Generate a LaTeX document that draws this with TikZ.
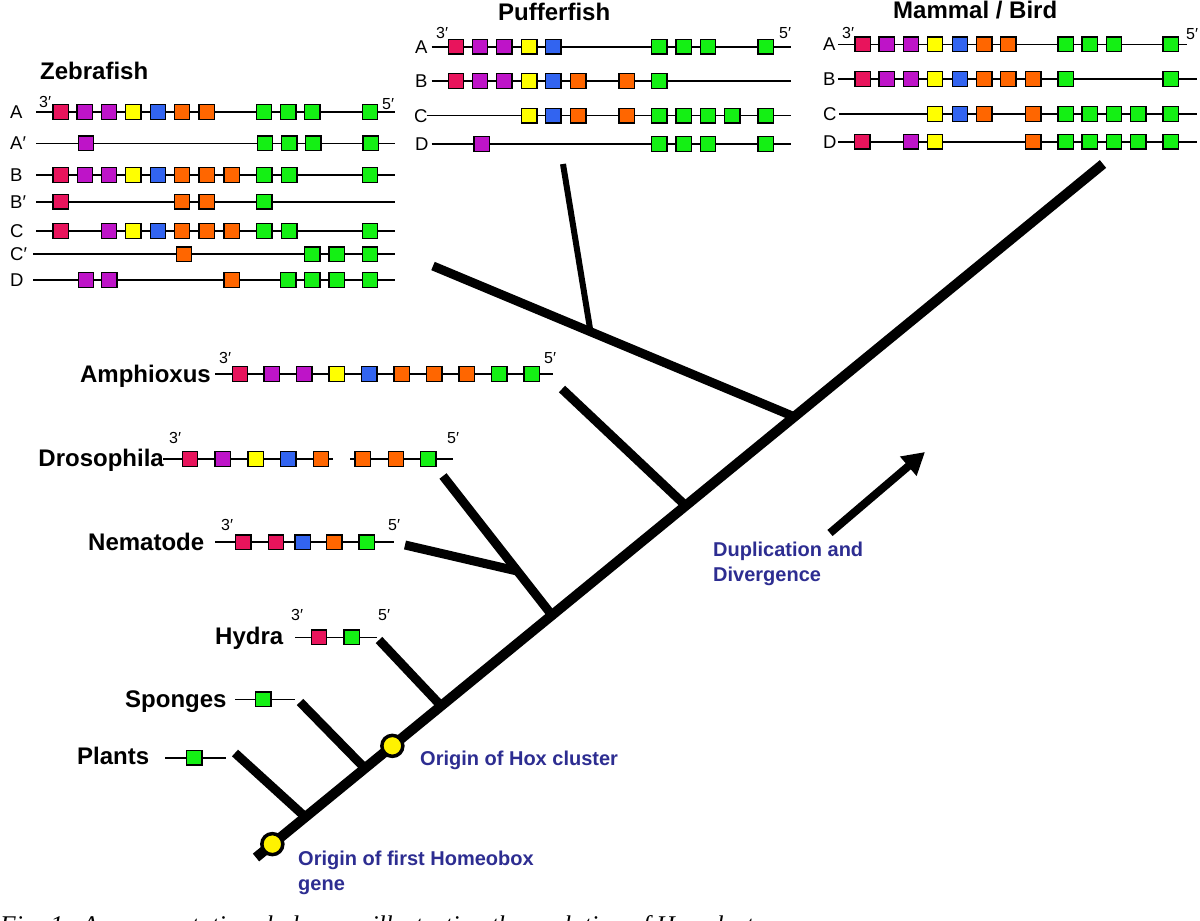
\documentclass[tikz,border=0pt]{standalone}
\usepackage{fontspec}
\setmainfont{Liberation Sans}
\newfontfamily\capfont{Liberation Serif}
\usetikzlibrary{calc,arrows.meta}
\definecolor{gred}{RGB}{232,20,92}
\definecolor{gmag}{RGB}{190,20,200}
\definecolor{gyel}{RGB}{255,255,0}
\definecolor{gblu}{RGB}{50,100,240}
\definecolor{gora}{RGB}{255,102,0}
\definecolor{ggrn}{RGB}{20,240,20}
\definecolor{navy}{RGB}{45,45,145}
\tikzset{
  gene/.style={rectangle, draw=black, line width=1.4pt, minimum width=15.5pt, minimum height=14.5pt, inner sep=0pt},
  dnathick/.style={line width=2pt},
  dnathin/.style={line width=1.3pt},
  title/.style={font=\fontsize{24}{28}\selectfont\bfseries, inner sep=0pt},
  rowlab/.style={font=\fontsize{18.5}{20}\selectfont, inner sep=0pt, anchor=base west},
  endlab/.style={font=\fontsize{16}{18}\selectfont, inner sep=0pt, anchor=base west},
  note/.style={font=\fontsize{20}{25.5}\selectfont\bfseries, text=navy, inner sep=0pt, align=left},
  trunkline/.style={line width=10pt},
  branch/.style={line width=9pt},
  thinbranch/.style={line width=6pt},
  hoxdot/.style={circle, fill=yellow, draw=black, line width=3.5pt, minimum size=21pt, inner sep=0pt}
}
\newcommand{\generow}[6]{%
  \coordinate (#1-l) at (#4,#3);
  \coordinate (#1-r) at (#5,#3);
  \draw[#2] (#1-l) -- (#1-r);
  \foreach \gx/\gc [count=\gi] in {#6} {\node[gene,fill=\gc] (#1-\gi) at (\gx,#3) {};}
}
\begin{document}
\begin{tikzpicture}[x=1pt,y=-1pt]
\useasboundingbox (0,0) rectangle (1200,921);
\fill[white] (0,0) rectangle (1200,921);

% ---------------- Zebrafish ----------------
\node[title, anchor=base west] (zt) at (40,79) {Zebrafish};
\node[endlab] (z3) at (39,107) {3′};
\node[endlab] (z5) at (382,109) {5′};
\generow{zA}{dnathick}{112}{36}{395}{60.7/gred,84.7/gmag,109/gmag,133.3/gyel,158/gblu,182/gora,206.7/gora,264/ggrn,288.3/ggrn,312.3/ggrn,370/ggrn}
\generow{zAp}{dnathin}{143.3}{36}{395}{86/gmag,265/ggrn,289.3/ggrn,313.3/ggrn,370.7/ggrn}
\generow{zB}{dnathick}{175}{36}{395}{60.7/gred,85/gmag,109/gmag,133.3/gyel,158/gblu,182/gora,206.7/gora,231.7/gora,264.3/ggrn,289.3/ggrn,370/ggrn}
\generow{zBp}{dnathick}{201.7}{36}{395}{60.7/gred,182/gora,206.7/gora,264.3/ggrn}
\generow{zC}{dnathin}{231}{36}{395}{60.7/gred,109/gmag,133.3/gyel,158/gblu,182/gora,206.7/gora,231.7/gora,264.3/ggrn,289.3/ggrn,370/ggrn}
\generow{zCp}{dnathick}{254.3}{33}{395}{184/gora,312.3/ggrn,336.7/ggrn,370/ggrn}
\generow{zD}{dnathin}{280}{33}{395}{86/gmag,109.3/gmag,231.7/gora,288.3/ggrn,312.3/ggrn,336.7/ggrn,370/ggrn}
\node[rowlab] (zAl) at (10,118.5) {A};
\node[rowlab] (zApl) at (10,149.8) {A′};
\node[rowlab] (zBl) at (10,181.5) {B};
\node[rowlab] (zBpl) at (10,208.2) {B′};
\node[rowlab] (zCl) at (10,237.5) {C};
\node[rowlab] (zCpl) at (10,260.8) {C′};
\node[rowlab] (zDl) at (10,286.5) {D};

% ---------------- Pufferfish ----------------
\node[title, anchor=base west] (pt) at (498,20) {Pufferfish};
\node[endlab] (p3) at (436,38) {3′};
\node[endlab] (p5) at (779,38) {5′};
\generow{pA}{dnathick}{46.7}{431.7}{790.7}{456/gred,480/gmag,504.3/gmag,529.3/gyel,553.3/gblu,659.3/ggrn,683.7/ggrn,708/ggrn,765.7/ggrn}
\generow{pB}{dnathin}{81}{431.7}{790.7}{456/gred,480/gmag,504.3/gmag,529.3/gyel,553.3/gblu,578.3/gora,626.7/gora,659.3/ggrn}
\generow{pC}{dnathin}{115.7}{426.7}{790.7}{529.3/gyel,553.3/gblu,578.3/gora,626.7/gora,659.3/ggrn,683.7/ggrn,708/ggrn,732.3/ggrn,765.7/ggrn}
\generow{pD}{dnathin}{144}{431.7}{790.7}{481.7/gmag,659.3/ggrn,683.7/ggrn,708/ggrn,765.7/ggrn}
\node[rowlab] (pAl) at (415,53.2) {A};
\node[rowlab] (pBl) at (415,87.5) {B};
\node[rowlab] (pCl) at (414,122.2) {C};
\node[rowlab] (pDl) at (415,150.5) {D};

% ---------------- Mammal / Bird ----------------
\node[title, anchor=base west] (mt) at (893,18) {Mammal / Bird};
\node[endlab] (m3) at (842,38) {3′};
\node[endlab] (m5) at (1186,39) {5′};
\generow{mA}{dnathin}{44.3}{838.3}{1187}{862.7/gred,886.7/gmag,911/gmag,935/gyel,960/gblu,984.3/gora,1008.3/gora,1065.7/ggrn,1089.7/ggrn,1114/ggrn,1170.7/ggrn}
\generow{mB}{dnathick}{79}{838.3}{1196.7}{862.7/gred,886.7/gmag,911/gmag,935/gyel,960/gblu,984.3/gora,1008.3/gora,1033.3/gora,1065.7/ggrn,1170.7/ggrn}
\generow{mC}{dnathick}{114}{839}{1196.7}{935/gyel,960/gblu,984.3/gora,1033.3/gora,1065.7/ggrn,1089.7/ggrn,1114/ggrn,1138.3/ggrn,1170.7/ggrn}
\generow{mD}{dnathick}{141.7}{838.3}{1196.7}{862.3/gred,911/gmag,935/gyel,1033.3/gora,1065.7/ggrn,1089.7/ggrn,1114/ggrn,1138.3/ggrn,1170.7/ggrn}
\node[rowlab] (mAl) at (823,50.8) {A};
\node[rowlab] (mBl) at (823,85.5) {B};
\node[rowlab] (mCl) at (823,120.5) {C};
\node[rowlab] (mDl) at (823,148.2) {D};

% ---------------- Lower taxa ----------------
\node[title, anchor=base east] (amt) at (211,382) {Amphioxus};
\node[endlab] (am3) at (219,363) {3′};
\node[endlab] (am5) at (544,363) {5′};
\generow{am}{dnathin}{374}{215}{553.3}{240/gred,271.7/gmag,304.3/gmag,336.7/gyel,369.3/gblu,401.7/gora,434.3/gora,466.7/gora,499.3/ggrn,531.7/ggrn}

\node[title, anchor=base east] (drt) at (164,466) {Drosophila};
\node[endlab] (dr3) at (169,443) {3′};
\node[endlab] (dr5) at (447,443) {5′};
\generow{drA}{dnathick}{459}{163}{333}{190/gred,222.7/gmag,255.7/gyel,288.3/gblu,321/gora}
\generow{drB}{dnathick}{459}{350}{453}{362.7/gora,396/gora,428.3/ggrn}

\node[title, anchor=base west] (nmt) at (88,550) {Nematode};
\node[endlab] (nm3) at (221,530) {3′};
\node[endlab] (nm5) at (388,530) {5′};
\generow{nm}{dnathick}{542.3}{215}{394.3}{243.3/gred,276/gred,302.7/gblu,334.3/gora,366.7/ggrn}

\node[title, anchor=base west] (hyt) at (215,644) {Hydra};
\node[endlab] (hy3) at (291,620) {3′};
\node[endlab] (hy5) at (378,620) {5′};
\generow{hy}{dnathin}{637.3}{295}{376.7}{319/gred,351.7/ggrn}

\node[title, anchor=base west] (spt) at (125,707) {Sponges};
\generow{sp}{dnathin}{699.3}{235}{295}{263.3/ggrn}

\node[title, anchor=base west] (plt) at (77,764) {Plants};
\generow{pl}{dnathick}{757.7}{165}{225.7}{194.3/ggrn}

% ---------------- Tree ----------------
\coordinate (tb) at (256,857.5);
\coordinate (tt) at (1103,164);
\coordinate (jP) at ($(tb)!0.0583!(tt)$);
\coordinate (jS) at ($(tb)!0.1286!(tt)$);
\coordinate (jH) at ($(tb)!0.2186!(tt)$);
\coordinate (jN) at ($(tb)!0.3494!(tt)$);
\coordinate (jA) at ($(tb)!0.5073!(tt)$);
\coordinate (jV) at ($(tb)!0.6355!(tt)$);
\coordinate (ePl) at (235,753);
\coordinate (eSp) at (300,702);
\coordinate (eHy) at (379,640);
\coordinate (eDr) at (443,476);
\coordinate (eNm) at (405,545);
\coordinate (eAm) at (562,389);
\coordinate (eVt) at (433,266);
\coordinate (ePf) at (563,164);
\coordinate (fork) at ($(eDr)!0.683!(jN)$);
\coordinate (pj) at ($(eVt)!0.436!(jV)$);

\draw[trunkline] (tb) -- (tt);
\draw[branch] (ePl) -- (jP);
\draw[branch] (eSp) -- (jS);
\draw[branch] (eHy) -- (jH);
\draw[branch] (eDr) -- (jN);
\draw[branch] (eNm) -- (fork);
\draw[branch] (eAm) -- (jA);
\draw[branch] (eVt) -- (jV);
\draw[thinbranch] (ePf) -- (pj);

\node[hoxdot] (o1) at ($(tb)!0.0193!(tt)$) {};
\node[hoxdot] (o2) at ($(tb)!0.161!(tt)$) {};

\node[note, anchor=base west] (hoxlab) at (420,765) {Origin of Hox cluster};
\node[note, anchor=north west] (homlab) at (298,850.5) {Origin of first Homeobox\\gene};

% ---------------- Arrow ----------------
\coordinate (arT) at (830,533);
\coordinate (arH) at (925,452);
\draw[line width=8pt, -{Triangle[length=22pt,width=24pt]}] (arT) -- (arH);
\node[note, anchor=north west] (duplab) at (713,541.5) {Duplication and\\Divergence};

% ---------------- Caption (cut off by the page edge, as in the reference) ----------------
\node[anchor=base west, inner sep=0pt, font=\capfont\itshape\fontsize{25.5}{30}\selectfont] (cap) at (0,933) {Fig. 1.\ \ A representative cladogram illustrating the evolution of Hox clusters};
\end{tikzpicture}
\end{document}
